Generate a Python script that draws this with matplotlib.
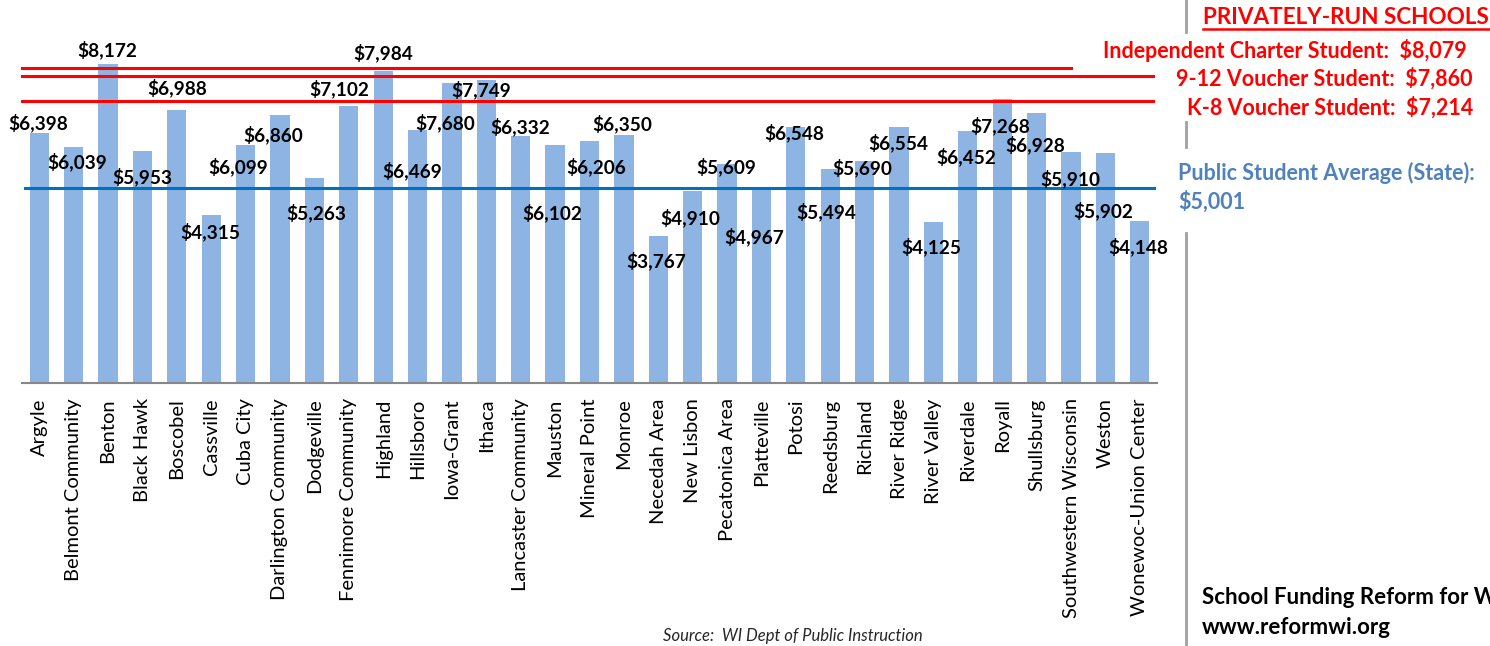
import matplotlib
matplotlib.use("Agg")
import matplotlib.pyplot as plt
from matplotlib.lines import Line2D

plt.rcParams['font.family'] = ['Lato', 'DejaVu Sans']

# ---------------- data ----------------
districts = ["Argyle", "Belmont Community", "Benton", "Black Hawk", "Boscobel",
             "Cassville", "Cuba City", "Darlington Community", "Dodgeville",
             "Fennimore Community", "Highland", "Hillsboro", "Iowa-Grant", "Ithaca",
             "Lancaster Community", "Mauston", "Mineral Point", "Monroe",
             "Necedah Area", "New Lisbon", "Pecatonica Area", "Platteville", "Potosi",
             "Reedsburg", "Richland", "River Ridge", "River Valley", "Riverdale",
             "Royall", "Shullsburg", "Southwestern Wisconsin", "Weston",
             "Wonewoc-Union Center"]
per_student = [6398, 6039, 8172, 5953, 6988, 4315, 6099, 6860, 5263, 7102, 7984,
               6469, 7680, 7749, 6332, 6102, 6206, 6350, 3767, 4910, 5609, 4967,
               6548, 5494, 5690, 6554, 4125, 6452, 7268, 6928, 5910, 5902, 4148]

private_labels = ["Independent Charter Student:", "9-12 Voucher Student:", "K-8 Voucher Student:"]
private_values = [8079, 7860, 7214]
public_avg = 5001

# ---------------- layout (label offsets in pixels, not data) ----------------
label_dx = [-1, 4, -1, 0, 0, -1, -7, -7, 2, -9, 0, -5, -7, -5, -1, -3, 7, -2, -2,
            -2, -1, -7, -2, -4, -2, -1, -2, -2, -2, -1, -1, -2, -2]
label_dy = [-10, 15, -14, 26, -22, 17, 22, 20, 35, -17, -18, 40, 40, 9, -9, 68, 26,
            -11, 25, 27, 3, 48, 6, 43, 7, 16, 25, 26, 27, 32, 27, 58, 26]

W, H = 1490, 646
fig = plt.figure(figsize=(W / 100, H / 100), dpi=100)

def fx(px):
    return px / W

def fy(py):
    return 1 - py / H

ax = fig.add_axes([fx(22), fy(383), fx(1157) - fx(22), 383 / H])
x = list(range(len(districts)))
ax.bar(x, per_student, width=0.56, color='#8DB4E2', zorder=2)
ax.set_xlim(-0.5, len(districts) - 0.5)
ax.set_ylim(0, 383 / 0.03904)

for s in ['top', 'right', 'left']:
    ax.spines[s].set_visible(False)
ax.spines['bottom'].set_color('#888888')
ax.spines['bottom'].set_linewidth(1.5)
ax.set_yticks([])
ax.set_xticks(x)
ax.set_xticklabels(districts, rotation=90, fontsize=14.5, color='black')
ax.tick_params(axis='x', length=0, pad=11)

# reference lines
xmax_list = [0.924, 0.9965, 0.9965]
for v, xm in zip(private_values, xmax_list):
    ax.axhline(v, xmin=0.0, xmax=xm, color='#FF0000', lw=2.2, zorder=3, clip_on=False)
ax.axhline(public_avg, xmin=0.003, xmax=0.997, color='#0070C0', lw=2.2, zorder=3)

# data labels
for i, v in enumerate(per_student):
    ax.annotate(f"${v:,}", xy=(i, v), xytext=(label_dx[i], -label_dy[i]),
                textcoords='offset pixels', ha='center', va='center',
                fontsize=13.7, fontweight='bold', color='black', zorder=4,
                annotation_clip=False)

# right-side panel
sep = dict(color='#A0A0A0', lw=2)
for y0, y1 in [(0, 32), (122, 147), (233, 646)]:
    fig.add_artist(Line2D([fx(1186), fx(1186)], [fy(y0), fy(y1)], **sep))

fig.text(fx(1203), fy(17), "PRIVATELY-RUN SCHOOLS", color='#FF0000', fontsize=16.2,
         fontweight='bold', ha='left', va='center')
fig.add_artist(Line2D([fx(1203), fx(1489)], [fy(29), fy(29)], color='#FF0000', lw=1.8))

for lab, v, yp, xr in zip(private_labels, private_values, [50, 79, 108], [1467, 1473, 1473]):
    fig.text(fx(xr), fy(yp), f"{lab}  ${v:,}", color='#FF0000', fontsize=15.5,
             fontweight='bold', ha='right', va='center')

fig.text(fx(1178), fy(173), "Public Student Average (State):", color='#4F81BD',
         fontsize=15.5, fontweight='bold', ha='left', va='center')
fig.text(fx(1178), fy(202), f"${public_avg:,}", color='#4F81BD',
         fontsize=15.5, fontweight='bold', ha='left', va='center')

fig.text(fx(1202), fy(598), "School Funding Reform for Wisconsin", color='black',
         fontsize=16, fontweight='bold', ha='left', va='center')
fig.text(fx(1202), fy(628), "www.reformwi.org", color='black',
         fontsize=16, fontweight='bold', ha='left', va='center')

fig.text(fx(793), fy(636), "Source:  WI Dept of Public Instruction", color='#262626',
         fontsize=12, style='italic', ha='center', va='center')

fig.savefig("out.png", dpi=100)
